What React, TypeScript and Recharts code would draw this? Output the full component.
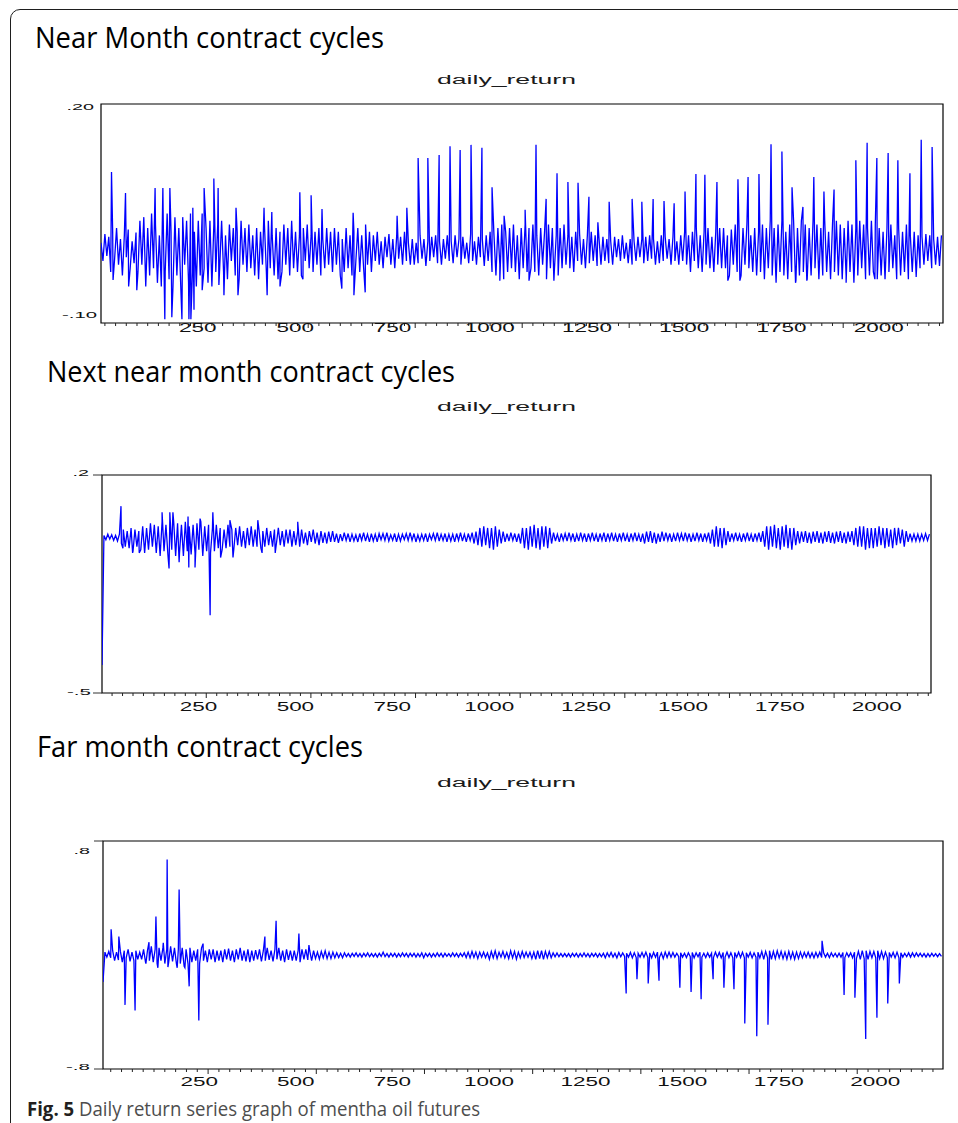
import React from "react";
import { LineChart, Line, XAxis, YAxis, ReferenceArea } from "recharts";

// Daily returns. The *Noise arrays hold one value every
// 5 observations (obs 1, 6, 11, ...), one row per 100 observations; the
// *Spikes arrays hold the isolated large moves as [observation, return].

const nearNoise = [
  .01, -.015, .022, -.008, .018, -.03, .025, -.012, .03, -.02, .015, -.035, .02, -.01, .028, -.025, .012, -.018, .024, -.03,
  .04, -.02, .045, -.05, .03, -.035, .05, -.025, .035, -.045, .02, -.05, .04, -.03, .05, -.04, .025, -.05, .045, -.035,
  .03, -.05, .045, -.02, .04, -.045, .05, -.03, .025, -.05, .04, -.035, .05, -.025, .03, -.045, .04, -.05, .035, -.03,
  .035, -.025, .04, -.03, .02, -.04, .035, -.015, .03, -.035, .025, -.04, .04, -.02, .03, -.03, .035, -.025, .02, -.035,
  .03, -.04, .025, -.02, .035, -.03, .04, -.025, .02, -.035, .03, -.04, .025, -.03, .035, -.02, .03, -.035, .04, -.025,
  .025, -.03, .02, -.035, .03, -.015, .035, -.025, .02, -.03, .025, -.02, .03, -.035, .015, -.025, .03, -.02, .025, -.03,
  .03, -.02, .025, -.035, .015, -.03, .03, -.025, .02, -.035, .025, -.015, .03, -.03, .02, -.025, .035, -.02, .025, -.03,
  .02, -.015, .025, -.02, .012, -.025, .018, -.01, .022, -.02, .015, -.025, .02, -.012, .018, -.02, .025, -.015, .01, -.02,
  .015, -.02, .01, -.018, .02, -.012, .015, -.022, .012, -.015, .018, -.01, .02, -.018, .012, -.02, .015, -.012, .02, -.015,
  .012, -.018, .02, -.01, .015, -.02, .018, -.012, .01, -.018, .022, -.015, .012, -.02, .018, -.01, .015, -.022, .02, -.015,
  .025, -.03, .02, -.035, .03, -.02, .035, -.04, .025, -.03, .03, -.025, .035, -.03, .02, -.04, .03, -.025, .035, -.03,
  .03, -.025, .035, -.03, .02, -.035, .03, -.02, .025, -.04, .035, -.025, .03, -.03, .02, -.035, .03, -.025, .035, -.02,
  .02, -.025, .018, -.03, .025, -.015, .022, -.02, .015, -.025, .02, -.018, .025, -.015, .02, -.022, .015, -.02, .018, -.015,
  .015, -.018, .012, -.02, .018, -.01, .015, -.015, .02, -.012, .01, -.018, .015, -.02, .012, -.015, .018, -.01, .015, -.018,
  .018, -.015, .02, -.012, .015, -.02, .012, -.018, .02, -.015, .018, -.012, .015, -.02, .018, -.015, .012, -.02, .02, -.015,
  .025, -.02, .02, -.03, .025, -.015, .03, -.025, .02, -.03, .025, -.02, .03, -.025, .018, -.03, .025, -.02, .03, -.025,
  .03, -.025, .02, -.035, .028, -.02, .035, -.03, .025, -.035, .03, -.02, .035, -.025, .02, -.03, .03, -.035, .025, -.03,
  .035, -.04, .03, -.025, .04, -.035, .03, -.045, .035, -.03, .04, -.035, .025, -.04, .035, -.03, .04, -.045, .03, -.035,
  .04, -.03, .035, -.04, .03, -.035, .04, -.025, .035, -.04, .03, -.035, .04, -.03, .025, -.04, .035, -.03, .04, -.035,
  .035, -.04, .03, -.035, .04, -.03, .035, -.045, .03, -.035, .04, -.025, .035, -.04, .03, -.035, .04, -.03, .035, -.04,
  .03, -.035, .025, -.04, .03, -.03, .035, -.025, .02, -.04, .03, -.035, .025, -.03, .035, -.04, .02, -.03, .025, -.035,
  .02, -.025, .018, -.02, .022, -.015, .02, -.025, .015, -.02, .018, -.022, .02,
];

const nearSpikes: [number, number][] = [
  [28, 0.107], [32, -0.041], [64, 0.078], [72, -0.05], [93, -0.055],
  [140, 0.085], [160, 0.085], [165, -0.095], [178, 0.085], [183, -0.092],
  [209, -0.095], [227, -0.095], [232, -0.095], [237, 0.058], [240, -0.082],
  [261, -0.055], [266, 0.085], [291, 0.098], [302, 0.085], [304, -0.048],
  [317, -0.062], [348, 0.058], [353, -0.062], [420, 0.058], [428, -0.062],
  [440, 0.052], [461, -0.05], [512, 0.079], [520, -0.04], [541, 0.075],
  [569, 0.056], [620, -0.053], [649, 0.051], [651, -0.062], [680, -0.058],
  [762, 0.047], [787, 0.058], [816, 0.126], [841, 0.126], [870, 0.13],
  [898, 0.142], [924, 0.137], [952, 0.144], [980, 0.14], [1006, 0.086],
  [1026, -0.042], [1037, 0.047], [1091, 0.055], [1101, -0.042], [1119, 0.144],
  [1145, 0.07], [1165, -0.042], [1173, 0.105], [1201, 0.093], [1227, 0.092],
  [1255, 0.073], [1278, 0.038], [1307, 0.066], [1366, 0.07], [1391, 0.066],
  [1420, 0.07], [1448, 0.067], [1474, 0.064], [1502, 0.08], [1530, 0.104],
  [1553, 0.103], [1584, 0.093], [1612, -0.042], [1638, 0.097], [1643, -0.042],
  [1664, 0.1], [1692, 0.104], [1723, 0.145], [1751, 0.135], [1777, 0.086],
  [1787, -0.042], [1805, 0.059], [1815, -0.042], [1833, 0.1], [1859, 0.08],
  [1885, 0.083], [1916, -0.045], [1941, 0.123], [1970, 0.147], [1990, -0.04],
  [1995, 0.126], [2024, 0.133], [2049, 0.123], [2080, 0.105], [2096, -0.037],
  [2109, 0.151], [2137, 0.141],
];

const nextNoise = [
  -.41, .006, -.008, .01, -.006, .008, -.01, .006, -.012, .01, -.02, .025, -.03, .02, -.035, .03, -.045, .025, -.03, .02,
  -.04, .035, -.05, .03, -.04, .045, -.03, .04, -.05, .035, -.06, .05, -.045, .04, -.055, .06, -.04, .05, -.06, .045,
  -.05, .04, -.06, .05, -.045, .035, -.055, .04, -.05, .045, -.04, .05, -.06, .035, -.045, .04, -.05, .03, -.045, .04,
  -.035, .03, -.04, .025, -.035, .04, -.03, .025, -.04, .03, -.025, .035, -.03, .02, -.035, .03, -.025, .035, -.03, .025,
  -.03, .025, -.035, .02, -.03, .03, -.025, .02, -.03, .025, -.02, .03, -.025, .02, -.03, .025, -.02, .025, -.03, .02,
  -.025, .02, -.03, .025, -.02, .015, -.025, .02, -.015, .025, -.02, .015, -.025, .02, -.018, .015, -.02, .018, -.015, .02,
  -.015, .012, -.018, .01, -.012, .015, -.01, .012, -.015, .01, -.012, .008, -.015, .012, -.01, .015, -.012, .01, -.015, .012,
  -.012, .01, -.015, .012, -.008, .012, -.01, .015, -.012, .008, -.01, .012, -.015, .01, -.012, .01, -.008, .012, -.01, .015,
  -.01, .012, -.015, .008, -.012, .01, -.01, .012, -.015, .01, -.008, .012, -.01, .015, -.012, .01, -.01, .012, -.015, .01,
  -.012, .01, -.015, .012, -.01, .015, -.012, .01, -.015, .012, -.01, .015, -.02, .018, -.025, .03, -.03, .035, -.025, .03,
  -.035, .03, -.04, .035, -.03, .025, -.02, .018, -.015, .012, -.012, .015, -.01, .012, -.015, .012, -.02, .03, -.035, .03,
  -.04, .035, -.03, .04, -.035, .03, -.04, .035, -.03, .035, -.035, .03, -.02, .015, -.012, .01, -.015, .012, -.01, .012,
  -.012, .015, -.01, .012, -.015, .01, -.012, .015, -.01, .012, -.015, .012, -.01, .015, -.012, .01, -.015, .012, -.01, .015,
  -.015, .012, -.01, .015, -.012, .01, -.015, .012, -.01, .015, -.012, .01, -.015, .012, -.01, .015, -.012, .01, -.015, .012,
  -.02, .018, -.015, .02, -.018, .015, -.02, .012, -.015, .018, -.012, .015, -.01, .012, -.015, .01, -.012, .015, -.01, .012,
  -.012, .015, -.01, .012, -.015, .01, -.012, .015, -.01, .012, -.015, .012, -.01, .015, -.02, .025, -.03, .035, -.03, .03,
  -.035, .03, -.025, .02, -.015, .012, -.01, .015, -.012, .01, -.015, .012, -.01, .015, -.012, .01, -.015, .012, -.01, .015,
  -.015, .02, -.03, .035, -.04, .035, -.03, .04, -.035, .03, -.04, .035, -.03, .04, -.035, .03, -.04, .03, -.025, .02,
  -.02, .018, -.015, .02, -.018, .015, -.02, .018, -.015, .02, -.018, .015, -.02, .018, -.015, .02, -.018, .015, -.02, .018,
  -.015, .02, -.018, .015, -.02, .018, -.015, .02, -.025, .03, -.03, .035, -.03, .035, -.04, .03, -.035, .03, -.035, .03,
  -.03, .035, -.025, .03, -.035, .03, -.03, .025, -.035, .03, -.025, .03, -.02, .025, -.03, .02, -.015, .012, -.012, .01,
  -.012, .01, -.012, .01, -.01, .012, -.01, .01,
];

const nextSpikes: [number, number][] = [
  [50, 0.1], [55, -0.035], [80, -0.05], [97, -0.05], [156, 0.08],
  [174, -0.1], [176, 0.08], [184, 0.08], [200, -0.08], [223, 0.067],
  [225, -0.097], [241, -0.097], [254, 0.06], [280, -0.25], [287, 0.08],
  [307, -0.065], [331, 0.055], [339, -0.065], [403, 0.055], [414, -0.05],
  [448, -0.05], [506, 0.05],
];

const farNoise = [
  -.19, .02, -.015, .025, -.02, .03, -.04, .02, -.035, .025, -.05, .03, -.02, .04, -.045, .02, -.04, .03, -.03, .02,
  -.03, .04, -.05, .03, -.04, .06, -.05, .04, -.06, .05, -.04, .05, -.06, .04, -.05, .06, -.045, .05, -.06, .04,
  -.06, .05, -.08, .04, -.06, .05, -.05, .03, -.04, .04, -.06, .05, -.04, .03, -.05, .04, -.03, .04, -.05, .03,
  -.04, .03, -.05, .04, -.03, .045, -.04, .03, -.05, .04, -.03, .05, -.04, .03, -.045, .04, -.05, .03, -.04, .035,
  -.03, .04, -.045, .03, -.04, .05, -.035, .03, -.045, .04, -.03, .05, -.04, .03, -.05, .04, -.035, .03, -.04, .03,
  -.04, .03, -.05, .04, -.03, .04, -.035, .03, -.04, .03, -.025, .02, -.03, .025, -.02, .03, -.025, .02, -.025, .02,
  -.02, .015, -.018, .012, -.02, .015, -.012, .01, -.015, .012, -.01, .015, -.012, .01, -.015, .012, -.01, .015, -.012, .01,
  -.012, .01, -.015, .012, -.01, .02, -.012, .01, -.015, .012, -.01, .012, -.015, .01, -.012, .015, -.01, .012, -.015, .012,
  -.01, .012, -.015, .01, -.012, .015, -.02, .012, -.01, .012, -.015, .01, -.012, .015, -.01, .012, -.015, .012, -.01, .01,
  -.012, .015, -.01, .012, -.015, .012, -.01, .015, -.018, .02, -.02, .025, -.018, .02, -.025, .02, -.015, .02, -.018, .015,
  -.03, .025, -.02, .03, -.025, .02, -.015, .025, -.02, .018, -.025, .03, -.02, .025, -.03, .02, -.02, .025, -.018, .02,
  -.015, .02, -.025, .02, -.03, .03, -.025, .03, -.03, .025, -.02, .025, -.02, .015, -.012, .015, -.012, .01, -.012, .01,
  -.012, .01, -.015, .012, -.01, .012, -.015, .01, -.012, .015, -.012, .01, -.015, .012, -.01, .012, -.015, .01, -.012, .012,
  -.02, .015, -.012, .018, -.015, .012, -.02, .018, -.012, .015, -.01, .012, -.015, .018, -.02, .015, -.018, .012, -.015, .018,
  -.015, .02, -.018, .015, -.02, .018, -.015, .02, -.018, .015, -.025, .02, -.018, .02, -.015, .018, -.015, .012, -.012, .015,
  -.015, .012, -.018, .015, -.012, .018, -.02, .015, -.012, .02, -.015, .012, -.018, .015, -.015, .012, -.018, .02, -.015, .018,
  -.02, .018, -.015, .02, -.018, .015, -.02, .018, -.015, .02, -.018, .02, -.02, .015, -.015, .018, -.02, .015, -.015, .02,
  -.02, .025, -.03, .025, -.02, .03, -.03, .025, -.025, .03, -.02, .025, -.025, .02, -.03, .025, -.025, .02, -.03, .02,
  -.025, .02, -.02, .018, -.015, .02, -.018, .015, -.02, .018, -.015, .02, -.018, .015, -.015, .012, -.018, .015, -.012, .012,
  -.015, .012, -.015, .018, -.018, .015, -.012, .015, -.02, .02, -.025, .025, -.03, .03, -.025, .03, -.03, .025, -.02, .025,
  -.02, .03, -.025, .025, -.025, .02, -.02, .018, -.015, .018, -.02, .02, -.02, .015, -.015, .012, -.012, .015, -.015, .015,
  -.012, .015, -.01, .012, -.012, .01, -.015, .01, -.012, .012, -.01, .01, -.012, .01, -.01,
];

const farSpikes: [number, number][] = [
  [22, 0.18], [42, 0.13], [58, -0.35], [84, -0.39], [112, -0.06],
  [120, 0.09], [138, 0.27], [143, -0.09], [157, 0.085], [167, 0.67],
  [169, -0.085], [193, -0.09], [198, 0.46], [213, -0.09], [224, -0.22],
  [249, -0.46], [260, 0.08], [420, 0.13], [449, 0.24], [508, 0.15],
  [534, 0.07], [1355, -0.27], [1383, -0.17], [1412, -0.2], [1440, -0.18],
  [1494, -0.23], [1523, -0.26], [1549, -0.31], [1580, -0.17], [1608, -0.23],
  [1634, -0.24], [1662, -0.48], [1693, -0.57], [1722, -0.49], [1862, 0.1],
  [1919, -0.28], [1947, -0.3], [1975, -0.59], [2004, -0.44], [2032, -0.34],
  [2062, -0.2],
];

const xLabelTicks = [250, 500, 750, 1000, 1250, 1500, 1750, 2000];

const nearYTicks = [-0.1, 0.2];
const nearYLabels = ["-.10", ".20"];
const nextYTicks = [-0.5, 0.2];
const nextYLabels = ["-.5", ".2"];
const farYTicks = [-0.8, 0.8];
const farYLabels = ["-.8", ".8"];

type Pt = { t: number; v: number };

function buildSeries(noise: number[], spikes: [number, number][]): Pt[] {
  const pts: Pt[] = noise.map((v, i) => ({ t: 1 + i * 5, v }));
  spikes.forEach(([t, v]) => pts.push({ t, v }));
  return pts.sort((a, b) => a.t - b.t);
}

function minorTicks(start: number, step: number, end: number) {
  const out: number[] = [];
  for (let t = start; t < end; t += step) out.push(t);
  return out;
}

const AXIS_FONT = "'Liberation Sans', Arial, sans-serif";

function labelWidth(s: string, digit: number) {
  let w = 0;
  for (const c of s) w += c === "." ? digit * 0.5 : c === "-" ? digit * 0.68 : digit;
  return w;
}

interface PanelProps {
  top: number;
  height: number;
  data: Pt[];
  xDomain: [number, number];
  yTicks: number[];
  yLabels: string[];
  margin: { top: number; right: number; bottom: number; left: number };
  xAxisHeight: number;
  tickStart: number;
  tickStep: number;
  xLabelDy: number;
  yLabelDy: number[];
  yLabelGap: number[];
  yTickLines: boolean;
}

function Panel(p: PanelProps) {
  const minors = minorTicks(p.tickStart, p.tickStep, p.xDomain[1]);
  const majors = new Set(minors.filter((_, i) => i % 10 === 9));
  const labels = new Set(xLabelTicks);
  const allTicks = [...minors, ...xLabelTicks];

  const xTick = (props: any) => {
    const { x, y, payload } = props;
    const v = payload.value;
    if (labels.has(v)) {
      const s = String(v);
      return (
        <text
          x={x}
          y={y + p.xLabelDy}
          textAnchor="middle"
          fontSize={12}
          fontFamily={AXIS_FONT}
          fill="#111"
          textLength={labelWidth(s, 12.5)}
          lengthAdjust="spacingAndGlyphs"
        >
          {s}
        </text>
      );
    }
    return <line x1={x} x2={x} y1={y} y2={y + (majors.has(v) ? 5 : 3)} stroke="#222" strokeWidth={1} />;
  };

  const yTick = (props: any) => {
    const { x, y, payload } = props;
    const i = p.yTicks.indexOf(payload.value);
    const s = p.yLabels[i];
    return (
      <g>
        {p.yTickLines && <line x1={x - 9} x2={x} y1={y} y2={y} stroke="#333" strokeWidth={1} />}
        <text
          x={x - p.yLabelGap[i]}
          y={y + p.yLabelDy[i]}
          textAnchor="end"
          fontSize={9.5}
          fontFamily={AXIS_FONT}
          fill="#111"
          textLength={labelWidth(s, 11)}
          lengthAdjust="spacingAndGlyphs"
        >
          {s}
        </text>
      </g>
    );
  };

  const yDomain: [number, number] = [p.yTicks[0], p.yTicks[p.yTicks.length - 1]];

  return (
    <div style={{ position: "absolute", left: 0, top: p.top }}>
      <LineChart width={958} height={p.height} data={p.data} margin={p.margin}>
        <XAxis
          type="number"
          dataKey="t"
          domain={p.xDomain}
          ticks={allTicks}
          interval={0}
          tick={xTick}
          tickLine={false}
          axisLine={false}
          tickSize={0}
          tickMargin={0}
          height={p.xAxisHeight}
          allowDataOverflow
        />
        <YAxis
          type="number"
          domain={yDomain}
          ticks={p.yTicks}
          interval={0}
          tick={yTick}
          tickLine={false}
          axisLine={false}
          tickSize={0}
          tickMargin={0}
          width={60}
          allowDataOverflow
        />
        <Line
          type="linear"
          dataKey="v"
          stroke="#0000ff"
          strokeWidth={1.3}
          dot={false}
          activeDot={false}
          isAnimationActive={false}
        />
        <ReferenceArea
          x1={p.xDomain[0]}
          x2={p.xDomain[1]}
          y1={yDomain[0]}
          y2={yDomain[1]}
          fill="none"
          fillOpacity={0}
          stroke="#000"
          strokeWidth={1.2}
          ifOverflow="visible"
        />
      </LineChart>
    </div>
  );
}

export default function App() {
  const near = buildSeries(nearNoise, nearSpikes);
  const next = buildSeries(nextNoise, nextSpikes);
  const far = buildSeries(farNoise, farSpikes);

  const titleFont = "'Open Sans', 'Noto Sans', sans-serif";

  return (
    <div
      style={{
        position: "fixed",
        left: 0,
        top: 0,
        width: 958,
        height: 1123,
        overflow: "hidden",
        background: "#fff",
      }}
    >
      <div
        style={{
          position: "absolute",
          left: 10,
          top: 9,
          width: 1000,
          height: 1200,
          border: "1.6px solid #1e1e1e",
          borderRadius: 10,
          boxSizing: "border-box",
        }}
      />

      <Panel
        top={95}
        height={250}
        data={near}
        xDomain={[1, 2165]}
        yTicks={nearYTicks}
        yLabels={nearYLabels}
        margin={{ top: 9, right: 15, bottom: 0, left: 41 }}
        xAxisHeight={22}
        tickStart={11}
        tickStep={27.5}
        xLabelDy={9}
        yLabelDy={[-4.8, 5.7]}
        yLabelGap={[4, 7]}
        yTickLines={false}
      />
      <Panel
        top={465}
        height={250}
        data={next}
        xDomain={[1, 2140]}
        yTicks={nextYTicks}
        yLabels={nextYLabels}
        margin={{ top: 10, right: 27, bottom: 0, left: 42 }}
        xAxisHeight={22}
        tickStart={27}
        tickStep={27}
        xLabelDy={18}
        yLabelDy={[2.2, 1.2]}
        yLabelGap={[11, 13]}
        yTickLines
      />
      <Panel
        top={830}
        height={262}
        data={far}
        xDomain={[1, 2175]}
        yTicks={farYTicks}
        yLabels={farYLabels}
        margin={{ top: 11, right: 15, bottom: 0, left: 43 }}
        xAxisHeight={23}
        tickStart={21}
        tickStep={28}
        xLabelDy={17}
        yLabelDy={[1.2, 13.2]}
        yLabelGap={[13, 13]}
        yTickLines
      />

      <svg
        width={958}
        height={1123}
        style={{ position: "absolute", left: 0, top: 0, pointerEvents: "none" }}
      >
        <text x={35} y={48} fontSize={29} fontFamily={titleFont} fill="#000" textLength={349} lengthAdjust="spacingAndGlyphs">
          Near Month contract cycles
        </text>
        <text x={47} y={382} fontSize={29} fontFamily={titleFont} fill="#000" textLength={408} lengthAdjust="spacingAndGlyphs">
          Next near month contract cycles
        </text>
        <text x={37} y={757} fontSize={29} fontFamily={titleFont} fill="#000" textLength={326} lengthAdjust="spacingAndGlyphs">
          Far month contract cycles
        </text>

        {[84, 411, 787].map((y) => (
          <text key={y} x={437} y={y} fontSize={12} fontFamily={AXIS_FONT} fill="#1a1a1a" textLength={139} lengthAdjust="spacingAndGlyphs">
            daily_return
          </text>
        ))}

        <text x={27} y={1116} fontSize={19.5} fontFamily={titleFont} textLength={453} lengthAdjust="spacingAndGlyphs">
          <tspan fontWeight={700} fill="#231f20">Fig. 5</tspan>
          <tspan fill="#4d4d4d"> Daily return series graph of mentha oil futures</tspan>
        </text>
      </svg>
    </div>
  );
}
